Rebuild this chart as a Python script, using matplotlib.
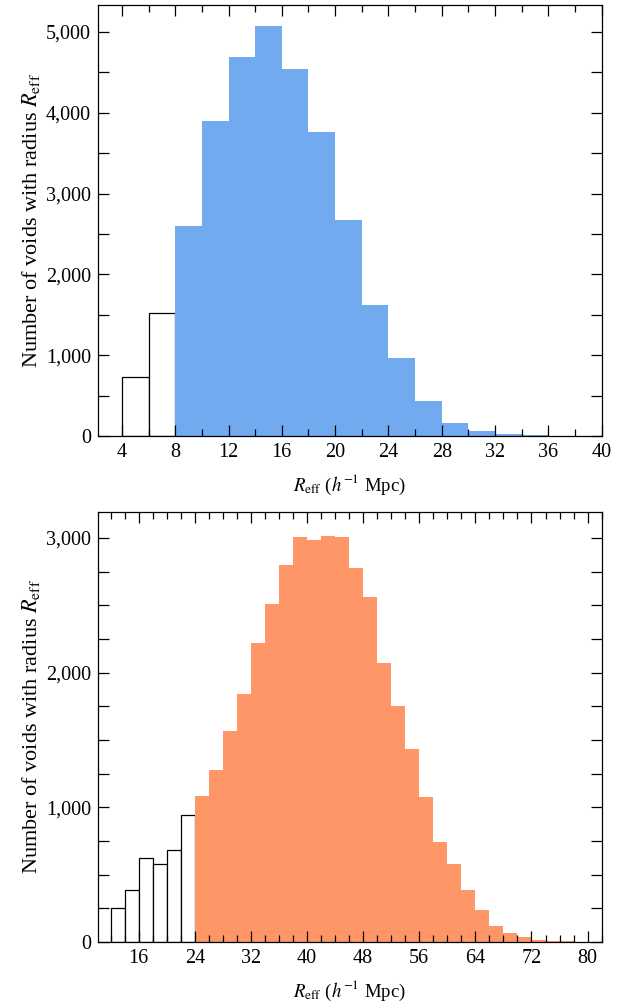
import matplotlib
matplotlib.use("Agg")
import matplotlib.pyplot as plt
from matplotlib.ticker import MultipleLocator, FuncFormatter
import numpy as np

plt.rcParams['font.family'] = ['Liberation Serif', 'DejaVu Serif']
plt.rcParams['mathtext.fontset'] = 'stix'

# top panel: bin edges start at 4, width 2
top_edges_white = [4, 6]
top_counts_white = [726, 1522]
top_edges_fill = [8, 10, 12, 14, 16, 18, 20, 22, 24, 26, 28, 30, 32, 34, 36, 38]
top_counts_fill = [2603, 3898, 4690, 5074, 4542, 3762, 2673, 1621, 965, 433,
                   165, 66, 25, 10, 5, 3]

# bottom panel
bot_edges_white = [12, 14, 16, 18, 20, 22]
bot_counts_white = [256, 384, 623, 578, 683, 946]
bot_edges_fill = [24, 26, 28, 30, 32, 34, 36, 38, 40, 42, 44, 46, 48, 50, 52,
                  54, 56, 58, 60, 62, 64, 66, 68, 70, 72, 74, 76, 78]
bot_counts_fill = [1083, 1277, 1567, 1844, 2221, 2511, 2801, 3010, 2987, 3017,
                   3010, 2779, 2563, 2072, 1755, 1433, 1076, 741, 578, 384,
                   236, 117, 65, 35, 17, 8, 5, 3]

blue = '#72aaf0'
orange = '#ff9668'
binw = 2

fig = plt.figure(figsize=(6.28, 10.06), dpi=100)
ax1 = fig.add_axes([0.156, 0.5666, 0.802, 0.4284])
ax2 = fig.add_axes([0.156, 0.0636, 0.802, 0.4277])

commas = FuncFormatter(lambda v, p: '{:,}'.format(int(v)))
xlab = r'$R_{\rm eff}$ ($h^{-1}$ Mpc)'
ylab = r'Number of voids with radius $R_{\rm eff}$'


def style(ax, xmaj, xmin):
    ax.xaxis.set_major_locator(MultipleLocator(xmaj))
    ax.xaxis.set_minor_locator(MultipleLocator(xmin))
    ax.yaxis.set_major_formatter(commas)
    ax.tick_params(which='both', direction='in', top=True, right=True,
                   labelsize=14.5, width=0.9, pad=5)
    ax.tick_params(which='major', length=8)
    ax.tick_params(which='minor', length=5)
    ax.tick_params(axis='y', which='minor', length=8)
    for s in ax.spines.values():
        s.set_linewidth(0.9)
    ax.set_xlabel(xlab, fontsize=13.5, labelpad=8)
    ax.set_ylabel(ylab, fontsize=16, labelpad=3)


ax1.bar(top_edges_white, top_counts_white, width=binw, align='edge',
        facecolor='white', edgecolor='black', linewidth=0.9)
ax1.bar(top_edges_fill, top_counts_fill, width=binw, align='edge',
        facecolor=blue, edgecolor='none')
ax1.set_xlim(2.2, 40)
ax1.set_ylim(0, 5334)
ax1.yaxis.set_major_locator(MultipleLocator(1000))
ax1.yaxis.set_minor_locator(MultipleLocator(500))
style(ax1, 4, 2)

ax2.bar(bot_edges_white, bot_counts_white, width=binw, align='edge',
        facecolor='white', edgecolor='black', linewidth=0.9)
ax2.bar(bot_edges_fill, bot_counts_fill, width=binw, align='edge',
        facecolor=orange, edgecolor='none')
ax2.set_xlim(10.2, 82)
ax2.set_ylim(0, 3195)
ax2.yaxis.set_major_locator(MultipleLocator(1000))
ax2.yaxis.set_minor_locator(MultipleLocator(250))
style(ax2, 8, 2)

fig.savefig('out.png', dpi=100)
